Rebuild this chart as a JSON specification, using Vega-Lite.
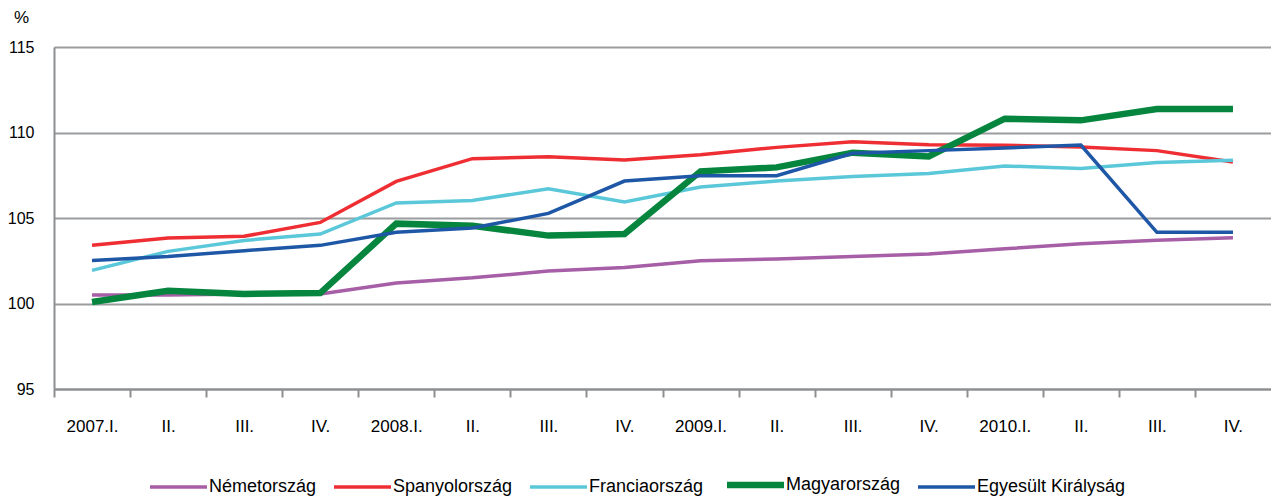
{
  "$schema": "https://vega.github.io/schema/vega-lite/v6.json",
  "width": 1217,
  "height": 342,
  "autosize": {"type": "none"},
  "padding": {"left": 54, "top": 47, "right": 0, "bottom": 108},
  "background": "white",
  "config": {
    "view": {"stroke": null},
    "font": "Liberation Sans"
  },
  "data": {
    "values": [
      {"q": "2007.I.", "c": "Németország", "v": 100.5},
      {"q": "2007.II.", "c": "Németország", "v": 100.5},
      {"q": "2007.III.", "c": "Németország", "v": 100.55},
      {"q": "2007.IV.", "c": "Németország", "v": 100.55},
      {"q": "2008.I.", "c": "Németország", "v": 101.2},
      {"q": "2008.II.", "c": "Németország", "v": 101.5},
      {"q": "2008.III.", "c": "Németország", "v": 101.9},
      {"q": "2008.IV.", "c": "Németország", "v": 102.1},
      {"q": "2009.I.", "c": "Németország", "v": 102.5},
      {"q": "2009.II.", "c": "Németország", "v": 102.6},
      {"q": "2009.III.", "c": "Németország", "v": 102.75},
      {"q": "2009.IV.", "c": "Németország", "v": 102.9},
      {"q": "2010.I.", "c": "Németország", "v": 103.2},
      {"q": "2010.II.", "c": "Németország", "v": 103.5},
      {"q": "2010.III.", "c": "Németország", "v": 103.7},
      {"q": "2010.IV.", "c": "Németország", "v": 103.85},
      {"q": "2007.I.", "c": "Spanyolország", "v": 103.4},
      {"q": "2007.II.", "c": "Spanyolország", "v": 103.83},
      {"q": "2007.III.", "c": "Spanyolország", "v": 103.93},
      {"q": "2007.IV.", "c": "Spanyolország", "v": 104.74},
      {"q": "2008.I.", "c": "Spanyolország", "v": 107.14},
      {"q": "2008.II.", "c": "Spanyolország", "v": 108.47},
      {"q": "2008.III.", "c": "Spanyolország", "v": 108.58},
      {"q": "2008.IV.", "c": "Spanyolország", "v": 108.39},
      {"q": "2009.I.", "c": "Spanyolország", "v": 108.7},
      {"q": "2009.II.", "c": "Spanyolország", "v": 109.13},
      {"q": "2009.III.", "c": "Spanyolország", "v": 109.46},
      {"q": "2009.IV.", "c": "Spanyolország", "v": 109.29},
      {"q": "2010.I.", "c": "Spanyolország", "v": 109.25},
      {"q": "2010.II.", "c": "Spanyolország", "v": 109.15},
      {"q": "2010.III.", "c": "Spanyolország", "v": 108.94},
      {"q": "2010.IV.", "c": "Spanyolország", "v": 108.27},
      {"q": "2007.I.", "c": "Franciaország", "v": 101.94},
      {"q": "2007.II.", "c": "Franciaország", "v": 103.05},
      {"q": "2007.III.", "c": "Franciaország", "v": 103.69},
      {"q": "2007.IV.", "c": "Franciaország", "v": 104.06},
      {"q": "2008.I.", "c": "Franciaország", "v": 105.88},
      {"q": "2008.II.", "c": "Franciaország", "v": 106.03},
      {"q": "2008.III.", "c": "Franciaország", "v": 106.71},
      {"q": "2008.IV.", "c": "Franciaország", "v": 105.94},
      {"q": "2009.I.", "c": "Franciaország", "v": 106.81},
      {"q": "2009.II.", "c": "Franciaország", "v": 107.16},
      {"q": "2009.III.", "c": "Franciaország", "v": 107.43},
      {"q": "2009.IV.", "c": "Franciaország", "v": 107.6},
      {"q": "2010.I.", "c": "Franciaország", "v": 108.04},
      {"q": "2010.II.", "c": "Franciaország", "v": 107.9},
      {"q": "2010.III.", "c": "Franciaország", "v": 108.25},
      {"q": "2010.IV.", "c": "Franciaország", "v": 108.37},
      {"q": "2007.I.", "c": "Magyarország", "v": 100.09},
      {"q": "2007.II.", "c": "Magyarország", "v": 100.75},
      {"q": "2007.III.", "c": "Magyarország", "v": 100.56},
      {"q": "2007.IV.", "c": "Magyarország", "v": 100.61},
      {"q": "2008.I.", "c": "Magyarország", "v": 104.67},
      {"q": "2008.II.", "c": "Magyarország", "v": 104.55},
      {"q": "2008.III.", "c": "Magyarország", "v": 103.97},
      {"q": "2008.IV.", "c": "Magyarország", "v": 104.06},
      {"q": "2009.I.", "c": "Magyarország", "v": 107.73},
      {"q": "2009.II.", "c": "Magyarország", "v": 107.96},
      {"q": "2009.III.", "c": "Magyarország", "v": 108.82},
      {"q": "2009.IV.", "c": "Magyarország", "v": 108.6},
      {"q": "2010.I.", "c": "Magyarország", "v": 110.81},
      {"q": "2010.II.", "c": "Magyarország", "v": 110.71},
      {"q": "2010.III.", "c": "Magyarország", "v": 111.37},
      {"q": "2010.IV.", "c": "Magyarország", "v": 111.37},
      {"q": "2007.I.", "c": "Egyesült Királyság", "v": 102.52},
      {"q": "2007.II.", "c": "Egyesült Királyság", "v": 102.75},
      {"q": "2007.III.", "c": "Egyesült Királyság", "v": 103.09},
      {"q": "2007.IV.", "c": "Egyesült Királyság", "v": 103.4},
      {"q": "2008.I.", "c": "Egyesült Királyság", "v": 104.16},
      {"q": "2008.II.", "c": "Egyesült Királyság", "v": 104.41},
      {"q": "2008.III.", "c": "Egyesült Királyság", "v": 105.27},
      {"q": "2008.IV.", "c": "Egyesült Királyság", "v": 107.16},
      {"q": "2009.I.", "c": "Egyesült Királyság", "v": 107.47},
      {"q": "2009.II.", "c": "Egyesült Királyság", "v": 107.47},
      {"q": "2009.III.", "c": "Egyesült Királyság", "v": 108.78},
      {"q": "2009.IV.", "c": "Egyesült Királyság", "v": 108.94},
      {"q": "2010.I.", "c": "Egyesült Királyság", "v": 109.09},
      {"q": "2010.II.", "c": "Egyesült Királyság", "v": 109.27},
      {"q": "2010.III.", "c": "Egyesült Királyság", "v": 104.16},
      {"q": "2010.IV.", "c": "Egyesült Királyság", "v": 104.16}
    ]
  },
  "mark": {"type": "line"},
  "encoding": {
    "x": {
      "field": "q",
      "type": "ordinal",
      "sort": null,
      "scale": {"type": "point", "padding": 0.5},
      "axis": {
        "title": null,
        "labelAngle": 0,
        "labelExpr": "slice(datum.value,5) == 'I.' ? datum.value : slice(datum.value,5)",
        "labelFontSize": 17,
        "labelColor": "#000000",
        "labelPadding": 21,
        "labelOffset": 38,
        "tickSize": 8,
        "tickWidth": 2,
        "tickOffset": -38,
        "tickColor": "#8c8e90",
        "domainColor": "#8c8e90",
        "domainWidth": 2,
        "grid": false
      }
    },
    "y": {
      "field": "v",
      "type": "quantitative",
      "scale": {"domain": [95, 115], "nice": false, "zero": false},
      "axis": {
        "values": [95, 100, 105, 110, 115],
        "title": "%",
        "titleAngle": 0,
        "titleX": -33,
        "titleY": -25,
        "titleAlign": "center",
        "titleBaseline": "alphabetic",
        "titleFontSize": 17,
        "titleFontWeight": "normal",
        "titleColor": "#000000",
        "labelFontSize": 16,
        "labelColor": "#000000",
        "labelPadding": 20,
        "ticks": false,
        "domainColor": "#8c8e90",
        "domainWidth": 2,
        "grid": true,
        "gridColor": "#9a9c9e",
        "gridWidth": 2
      }
    },
    "color": {
      "field": "c",
      "type": "nominal",
      "scale": {
        "domain": ["Németország", "Spanyolország", "Franciaország", "Magyarország", "Egyesült Királyság"],
        "range": ["#A65EA6", "#EE2E33", "#5BC8DA", "#06853F", "#1D57A6"]
      },
      "legend": {
        "title": null,
        "orient": "none",
        "legendX": 96,
        "legendY": 428,
        "direction": "horizontal",
        "symbolType": "stroke",
        "symbolSize": 3249,
        "labelFontSize": 18,
        "labelColor": "#000000",
        "labelOffset": 2,
        "columnPadding": 10,
        "encode": {
          "symbols": {
            "update": {
              "x": {"value": 28.5},
              "y": {"value": 10},
              "strokeWidth": {"signal": "datum.value == 'Magyarország' ? 6.5 : 3.5"}
            }
          },
          "labels": {
            "update": {
              "x": {"value": 59},
              "y": {"value": 10},
              "baseline": {"value": "middle"},
              "align": {"value": "left"}
            }
          }
        }
      }
    },
    "strokeWidth": {
      "condition": {"test": "datum.c == 'Magyarország'", "value": 6.5},
      "value": 3.5
    }
  }
}
